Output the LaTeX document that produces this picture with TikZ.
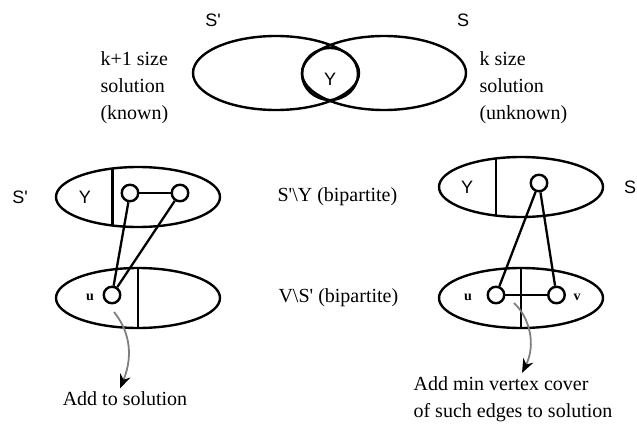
\documentclass[tikz,border=0pt]{standalone}
\usepackage{fontspec}
\setmainfont{Liberation Serif}
\newfontfamily\sansf{Liberation Sans}
\usetikzlibrary{arrows.meta}
\begin{document}
\begin{tikzpicture}[x=1pt,y=-1pt,
  shp/.style={line width=2.4pt},
  vtx/.style={circle,draw,line width=2.4pt,minimum size=16.5pt,inner sep=0pt},
  edg/.style={line width=2.3pt},
  sans/.style={font=\sansf\fontsize{18}{20}\selectfont},
  serif/.style={font=\fontsize{20}{27}\selectfont},
  lbl/.style={font=\bfseries\fontsize{14}{16}\selectfont},
  gar/.style={draw=black!50,line width=1.8pt,-{Stealth[black,length=14pt,width=11pt,inset=4.5pt]}}]
\useasboundingbox (0,0) rectangle (637,423);
% Venn
\draw[shp] (276,73) ellipse [x radius=83,y radius=37];
\draw[shp] (384,73) ellipse [x radius=82,y radius=37];
\draw[shp] (330,74) ellipse [x radius=28,y radius=26];
\node[sans] (yv) at (330,79) {Y};
\node[sans] (sp) at (213,20) {S\textquotesingle};
\node[sans] (s) at (463,20) {S};
\node[serif,align=left,anchor=west] (kl) at (97,88) {k+1 size\\solution\\(known)};
\node[serif,align=left,anchor=west] (kr) at (476,88) {k size\\solution\\(unknown)};
% left panel
\node[sans] (spl) at (20,197) {S\textquotesingle};
\draw[shp] (138,197) ellipse [x radius=82,y radius=30];
\draw[shp] (112.5,168.5) -- (112.5,225.5);
\node[sans] (y1) at (85,197) {Y};
\node[vtx] (a1) at (130,193) {};
\node[vtx] (a2) at (180,193) {};
\draw[shp] (138,298) ellipse [x radius=82,y radius=30];
\draw[shp] (138,268) -- (138,328);
\node[vtx] (u1) at (112,295) {};
\node[lbl] (ul) at (90,297) {u};
\draw[edg] (a1) -- (a2);
\draw[edg] (a1) -- (u1);
\draw[edg] (a2) -- (u1);
\coordinate (g1s) at (114,312);
\node[serif] (t1) at (125,399) {Add to solution};
\draw[gar] (g1s) .. controls (127,328) and (135,352) .. (t1.north -| 120,0);
% middle labels
\node[serif,anchor=west] (m1) at (274,197) {S\textquotesingle\textbackslash Y (bipartite)};
\node[serif,anchor=west] (m2) at (275,298) {V\textbackslash S\textquotesingle\ (bipartite)};
% right panel
\draw[shp] (521,187) ellipse [x radius=82,y radius=30];
\draw[shp] (496,158.4) -- (496,215.6);
\node[sans] (y2) at (467,187) {Y};
\node[sans] (sr) at (630,187) {S};
\node[vtx] (b1) at (539,183) {};
\draw[shp] (521,298) ellipse [x radius=82,y radius=30];
\draw[shp] (521,268) -- (521,328);
\node[vtx] (u2) at (496,295) {};
\node[vtx] (v2) at (556.5,295) {};
\node[lbl] (ul2) at (468,297) {u};
\node[lbl] (vl2) at (577,297) {v};
\draw[edg] (u2) -- (v2);
\draw[edg] (b1) -- (u2);
\draw[edg] (b1) -- (v2);
\node[serif,align=left] (t2) at (513,399) {Add min vertex cover\\of such edges to solution};
\coordinate (g2s) at (514,303);
\draw[gar] (g2s) .. controls (530,318) and (536,345) .. (t2.north -| 522,0);
\end{tikzpicture}
\end{document}
